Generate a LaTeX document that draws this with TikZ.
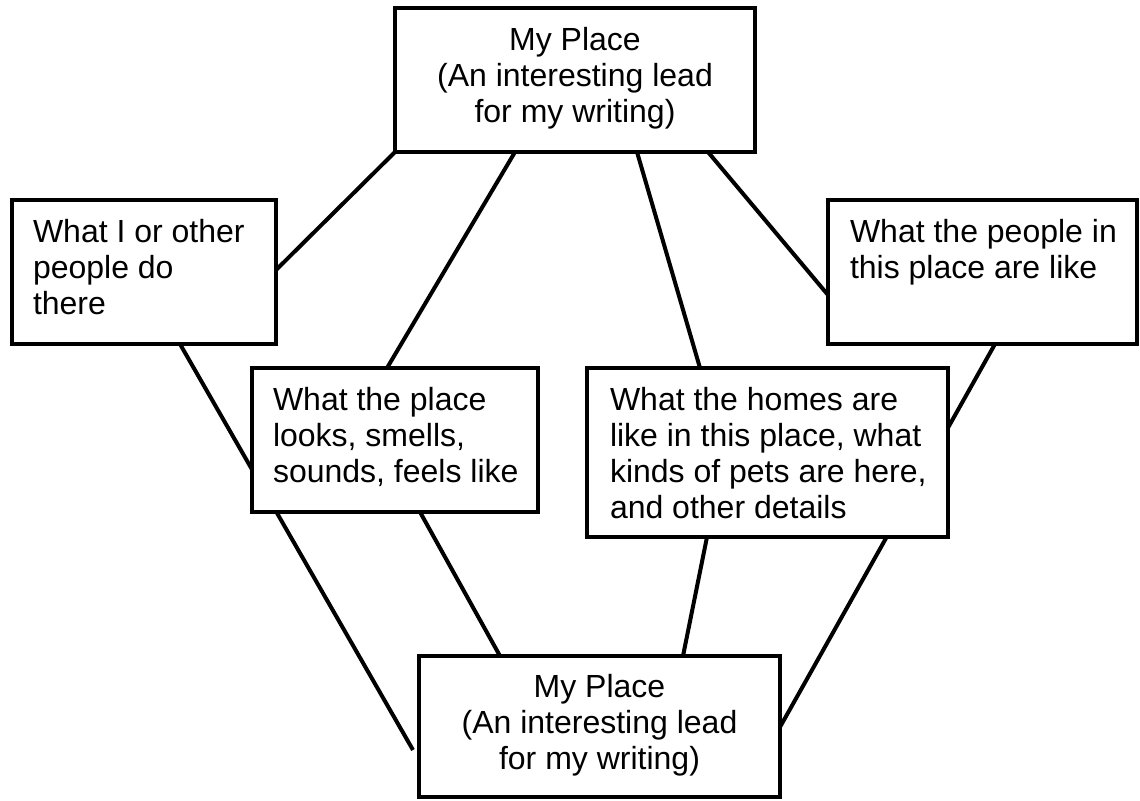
\documentclass[tikz,border=0pt]{standalone}
\usepackage{fontspec}
\setmainfont{Liberation Sans}
\usetikzlibrary{calc,backgrounds}
\tikzset{
  box/.style={draw=black, fill=white, line width=2pt, inner sep=0pt, outer sep=0pt, rectangle},
  conn/.style={draw=black, line width=2pt},
  lbl/.style={inner sep=0pt, outer sep=0pt, anchor=base west, font=\fontsize{16pt}{18pt}\selectfont},
  clbl/.style={inner sep=0pt, outer sep=0pt, anchor=base, font=\fontsize{16pt}{18pt}\selectfont}
}
\begin{document}
\begin{tikzpicture}[x=0.5pt,y=-0.5pt]
\useasboundingbox (0,0) rectangle (1140,800);
% boxes
\node[box, minimum width=180pt, minimum height=72pt] (T) at (575,80) {};
\node[box, minimum width=132pt, minimum height=72pt] (L) at (144,272) {};
\node[box, minimum width=154.5pt, minimum height=72pt] (R) at (982.5,272) {};
\node[box, minimum width=143pt, minimum height=72pt] (ML) at (395,440) {};
\node[box, minimum width=180.5pt, minimum height=84.5pt] (MR) at (767.5,452.5) {};
\node[box, minimum width=180.5pt, minimum height=70.5pt] (B) at (599.5,726.5) {};
% texts
\node[clbl] (Tt) at ($(T.north)+(0,42)$) {\parbox[t]{170pt}{\centering My Place\\(An interesting lead\\for my writing)}};
\node[lbl] (Lt) at ($(L.north west)+(21,42)$) {\parbox[t]{120pt}{\raggedright What I or other\\people do\\there}};
\node[lbl] (Rt) at ($(R.north west)+(22,42)$) {\parbox[t]{140pt}{\raggedright What the people in\\this place are like}};
\node[lbl] (MLt) at ($(ML.north west)+(21,42)$) {\parbox[t]{135pt}{\raggedright What the place\\looks, smells,\\sounds, feels like}};
\node[lbl] (MRt) at ($(MR.north west)+(23,42)$) {\parbox[t]{170pt}{\raggedright What the homes are\\like in this place, what\\kinds of pets are here,\\and other details}};
\node[clbl] (Bt) at ($(B.north)+(0,41)$) {\parbox[t]{170pt}{\centering My Place\\(An interesting lead\\for my writing)}};
% connectors
\begin{scope}[on background layer]
\draw[conn] (T.south west) -- ($(L.north east)+(0,70)$);
\draw[conn] ($(T.south west)+(120,0)$) -- ($(ML.north west)+(135,0)$);
\draw[conn] ($(T.south west)+(242,0)$) -- ($(MR.north west)+(113,0)$);
\draw[conn] ($(T.south west)+(313,0)$) -- ($(R.north west)+(0,95)$);
\draw[conn] ($(L.south west)+(168,0)$) -- ($(B.north west)+(-6,94)$);
\draw[conn] ($(ML.south west)+(168,0)$) -- ($(B.north west)+(81,0)$);
\draw[conn] ($(MR.south west)+(120,0)$) -- ($(B.north west)+(264,0)$);
\draw[conn] ($(R.south west)+(167,0)$) -- ($(B.north east)+(0,71)$);
\end{scope}
\end{tikzpicture}
\end{document}
